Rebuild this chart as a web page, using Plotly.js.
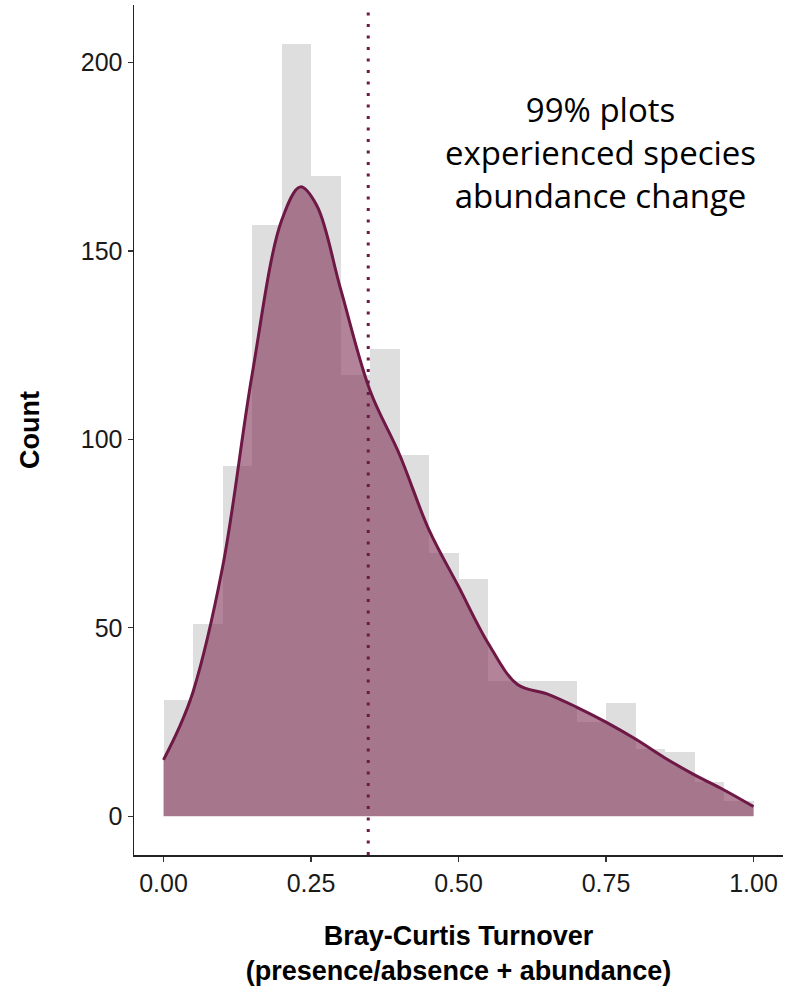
<!DOCTYPE html>
<html>
<head>
<meta charset="utf-8">
<script src="https://cdn.plot.ly/plotly-3.0.1.min.js"></script>
<style>html,body{margin:0;padding:0;background:#fff;}#chart{width:786px;height:990px;}</style>
</head>
<body>
<div id="chart"></div>
<script>
// Histogram bins (width 0.05)
const binCenters = [0.025,0.075,0.125,0.175,0.225,0.275,0.325,0.375,0.425,0.475,0.525,0.575,0.625,0.675,0.725,0.775,0.825,0.875,0.925,0.975];
const binCounts  = [31,51,93,157,205,170,117,124,96,70,63,36,36,36,25,30,18,17,9,4];
const binWidth = 0.05;

// Density curve scaled to counts
const densX = [0.00,0.025,0.05,0.10,0.15,0.20,0.232,0.26,0.30,0.35,0.40,0.45,0.50,0.55,0.60,0.65,0.70,0.75,0.80,0.85,0.90,0.95,1.00];
const densY = [15,23,33,66,117,158,167,162,140,113,96,76,61,46,35,32.5,29,25,20.5,15.5,11,7,2.6];

// Mean turnover marker
const meanLine = 0.347;

const xTickVals = [0,0.25,0.5,0.75,1];
const xTickText = ["0.00","0.25","0.50","0.75","1.00"];
const yTickVals = [0,50,100,150,200];

const annotationText = "99% plots<br>experienced species<br>abundance change";

const traces = [
  {
    type: 'bar',
    x: binCenters,
    y: binCounts,
    width: binWidth,
    marker: {color: '#dedede', line: {width: 0}},
    hoverinfo: 'x+y',
    showlegend: false
  },
  {
    type: 'scatter',
    mode: 'lines',
    x: densX,
    y: densY,
    line: {color: '#6e1846', width: 3, shape: 'spline', smoothing: 1},
    fill: 'tozeroy',
    fillcolor: 'rgba(128,50,85,0.6)',
    showlegend: false
  }
];

const layout = {
  width: 786,
  height: 990,
  margin: {l: 134, r: 3, t: 5, b: 135},
  paper_bgcolor: '#ffffff',
  plot_bgcolor: '#ffffff',
  bargap: 0,
  xaxis: {
    range: [-0.05, 1.05],
    tickvals: xTickVals,
    ticktext: xTickText,
    showgrid: false,
    zeroline: false,
    showline: true,
    linecolor: '#222',
    linewidth: 1.5,
    ticks: 'outside',
    ticklen: 5,
    tickwidth: 1.2,
    tickcolor: '#333',
    tickfont: {family: 'Liberation Sans, Arial, sans-serif', size: 25, color: '#1a1a1a'},
    title: {
      text: '<b>Bray-Curtis Turnover</b><br><b>(presence/absence + abundance)</b>',
      font: {family: 'Liberation Sans, Arial, sans-serif', size: 27, color: '#000'},
      standoff: 30
    }
  },
  yaxis: {
    range: [-10.25, 215.25],
    tickvals: yTickVals,
    showgrid: false,
    zeroline: false,
    showline: true,
    linecolor: '#222',
    linewidth: 1.5,
    ticks: 'outside',
    ticklen: 5,
    tickwidth: 1.2,
    tickcolor: '#333',
    tickfont: {family: 'Liberation Sans, Arial, sans-serif', size: 25, color: '#1a1a1a'},
    title: {
      text: '<b>Count</b>',
      font: {family: 'Liberation Sans, Arial, sans-serif', size: 27, color: '#000'},
      standoff: 33
    }
  },
  shapes: [
    {
      type: 'line',
      xref: 'x', yref: 'paper',
      x0: meanLine, x1: meanLine, y0: 0, y1: 1,
      line: {color: '#6e1846', width: 3, dash: '3px,8.5px'},
      layer: 'above'
    }
  ],
  annotations: [
    {
      xref: 'x', yref: 'y',
      x: 0.74, y: 176,
      text: annotationText,
      showarrow: false,
      align: 'center',
      font: {family: 'Open Sans, Noto Sans, sans-serif', size: 33, color: '#000'}
    }
  ]
};

Plotly.newPlot('chart', traces, layout, {displayModeBar: false, staticPlot: true});
</script>
</body>
</html>
